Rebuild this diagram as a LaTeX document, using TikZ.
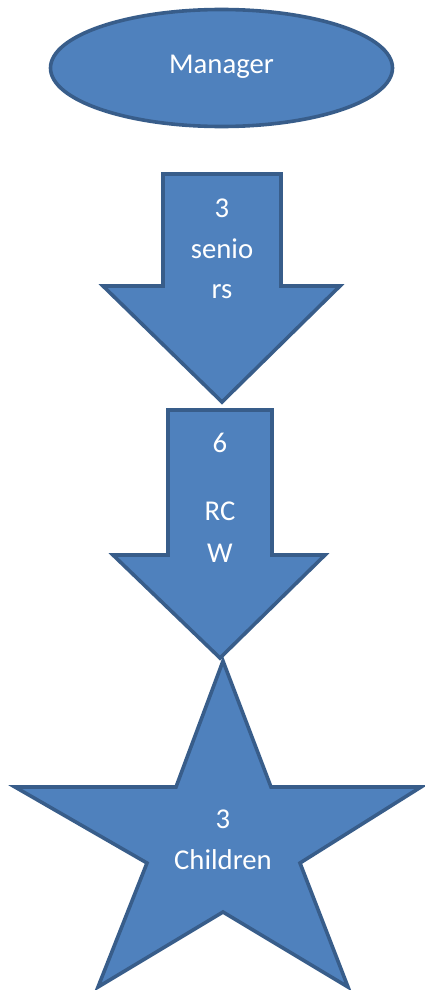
\documentclass[tikz,border=0pt]{standalone}
\usepackage{fontspec}
\setmainfont{Carlito}
\usetikzlibrary{shapes.geometric}
\definecolor{shapefill}{HTML}{4F81BD}
\definecolor{shapeline}{HTML}{385D8A}
\tikzset{
  shapestyle/.style={fill=shapefill, draw=shapeline, line width=3.6pt, line join=miter},
  lbl/.style={text=white, anchor=base, inner sep=0pt, font=\fontsize{28.7}{41}\selectfont}
}
\begin{document}
\begin{tikzpicture}[x=1pt,y=-1pt]
\useasboundingbox (0,0) rectangle (424,990);
% Manager ellipse
\node[shapestyle, ellipse, minimum width=342pt, minimum height=117pt, inner sep=0pt] (mgr) at (221.5,68) {};
\node[lbl] (mgrtxt) at (221.5,74) {Manager};
% Arrow 1
\draw[shapestyle] (163,174) -- (281,174) -- (281,286) -- (340,286) -- (222,402) -- (103,286) -- (163,286) -- cycle;
\node[lbl] (a1l1) at (222,217) {3};
\node[lbl] (a1l2) at (222,258) {senio};
\node[lbl] (a1l3) at (222,298) {rs};
% Arrow 2
\draw[shapestyle] (168,410) -- (272,410) -- (272,555) -- (325,555) -- (220,658) -- (113,555) -- (168,555) -- cycle;
\node[lbl] (a2l1) at (220,452) {6};
\node[lbl] (a2l2) at (220,520) {RC};
\node[lbl] (a2l3) at (220,562) {W};
% Star
\draw[shapestyle] (223,661) -- (271,787) -- (421,787) -- (300,863) -- (348,987) -- (223,912) -- (98,987) -- (147,863) -- (15,787) -- (176,787) -- cycle;
\node[lbl] (st1) at (223,828) {3};
\node[lbl] (st2) at (223,869) {Children};
\end{tikzpicture}
\end{document}
